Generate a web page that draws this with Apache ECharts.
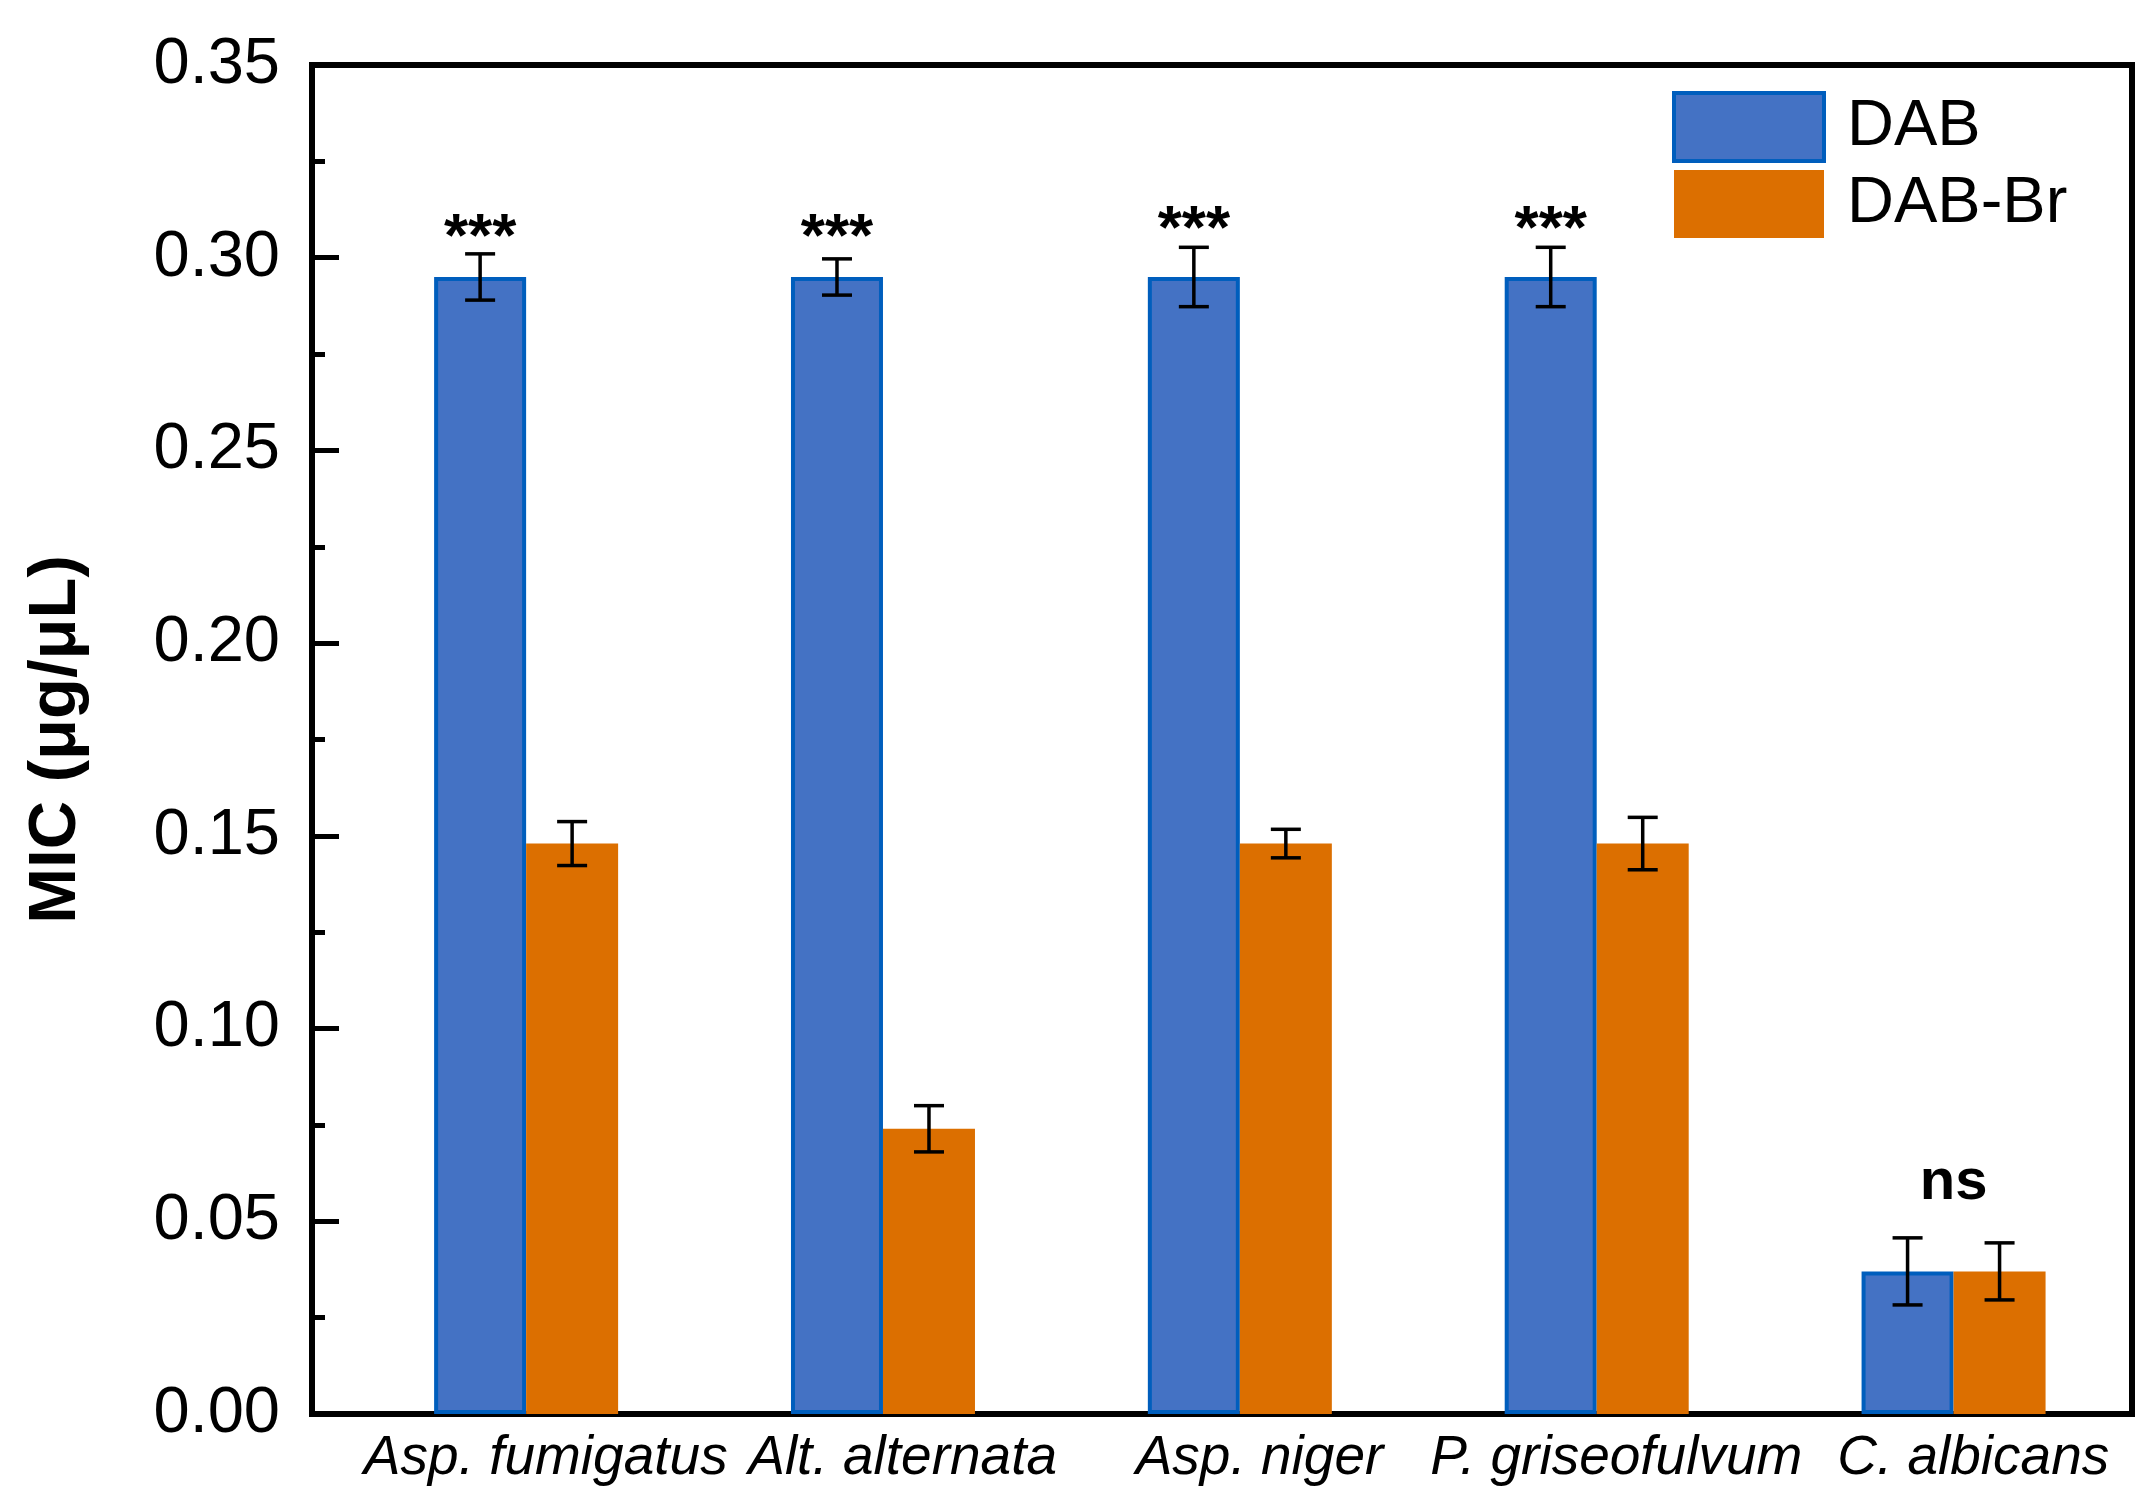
<!DOCTYPE html>
<html>
<head>
<meta charset="utf-8">
<script src="https://cdn.jsdelivr.net/npm/echarts@6/dist/echarts.min.js"></script>
<style>
html,body{margin:0;padding:0;background:#fff;}
#chart{width:2150px;height:1499px;}
</style>
</head>
<body>
<div id="chart"></div>
<script>
// ---- data ----
const categories = ['Asp. fumigatus', 'Alt. alternata', 'Asp. niger', 'P. griseofulvum', 'C. albicans'];
const seriesNames = ['DAB', 'DAB-Br'];
const dabValues   = [0.295, 0.295, 0.295, 0.295, 0.037];
const dabBrValues = [0.148, 0.074, 0.148, 0.148, 0.037];
const dabErrors   = [0.0060, 0.0047, 0.0077, 0.0077, 0.0087];
const dabBrErrors = [0.0057, 0.0060, 0.0037, 0.0068, 0.0074];
const sigLabels   = ['***', '***', '***', '***', 'ns'];
const sigLevels   = [0.305, 0.305, 0.307, 0.307, 0.060];
const sigOver     = ['DAB', 'DAB', 'DAB', 'DAB', 'pair'];
const yTickLabels = ['0.00', '0.05', '0.10', '0.15', '0.20', '0.25', '0.30', '0.35'];

// ---- styling ----
const FONT = '"Liberation Sans", Arial, sans-serif';
const BLUE = '#4472C4', BLUE_EDGE = '#005EBD', ORANGE = '#DC6F00';
const BAR_W = 92;

const chart = echarts.init(document.getElementById('chart'), null, {renderer: 'canvas'});

function errSeries(name, vals, errs, side) {
  return {
    type: 'custom', name: name, coordinateSystem: 'cartesian2d', silent: true, z: 5,
    data: vals.map((v, i) => [i + 1, v, errs[i]]),
    encode: {x: 0, y: 1},
    renderItem: function (params, api) {
      const x = api.value(0), v = api.value(1), e = api.value(2);
      const top = api.coord([x, v + e]);
      const bot = api.coord([x, v - e]);
      const cx = top[0] + side * BAR_W / 2;
      const hw = 15;
      const st = {stroke: '#000', lineWidth: 3.5};
      return {type: 'group', children: [
        {type: 'line', shape: {x1: cx, y1: top[1], x2: cx, y2: bot[1]}, style: st},
        {type: 'line', shape: {x1: cx - hw, y1: top[1], x2: cx + hw, y2: top[1]}, style: st},
        {type: 'line', shape: {x1: cx - hw, y1: bot[1], x2: cx + hw, y2: bot[1]}, style: st}
      ]};
    }
  };
}

const option = {
  backgroundColor: '#fff',
  animation: false,
  textStyle: {fontFamily: FONT},
  grid: {left: 312, right: 18, top: 65, bottom: 85, show: true, borderColor: '#000', borderWidth: 6, containLabel: false},
  legend: {
    data: [
      {name: 'DAB', itemStyle: {color: BLUE, borderColor: BLUE_EDGE, borderWidth: 4}},
      {name: 'DAB-Br', itemStyle: {color: ORANGE, borderWidth: 0}}
    ],
    orient: 'vertical', left: 1672, top: 91, padding: 0, itemWidth: 150, itemHeight: 68, itemGap: 7, icon: 'rect',
    selectedMode: false,
    textStyle: {fontSize: 65, color: '#000', fontFamily: FONT, padding: [0, 0, 0, 18]}
  },
  xAxis: {
    type: 'value', min: 0.4, max: 5.5,
    splitLine: {show: false},
    axisLine: {show: true, lineStyle: {color: '#000', width: 6}},
    axisTick: {show: false},
    axisLabel: {
      customValues: categories.map((c, i) => i + 1.055),
      formatter: function (v) { return categories[Math.round(v) - 1] || ''; },
      fontSize: 55, fontStyle: 'italic', color: '#000', fontFamily: FONT, margin: 17
    }
  },
  yAxis: {
    type: 'value', min: 0, max: 0.35, interval: 0.05,
    name: 'MIC (μg/μL)', nameLocation: 'middle', nameGap: 222, nameRotate: 90,
    nameTextStyle: {fontSize: 67, fontWeight: 'bold', color: '#000', fontFamily: FONT},
    splitLine: {show: false},
    axisLine: {show: true, lineStyle: {color: '#000', width: 6}},
    axisTick: {show: true, inside: true, length: 27, lineStyle: {color: '#000', width: 5}},
    minorTick: {show: true, splitNumber: 2, length: 13, lineStyle: {color: '#000', width: 5}},
    axisLabel: {
      formatter: function (v) { return yTickLabels[Math.round(v / 0.05)]; },
      fontSize: 65, color: '#000', fontFamily: FONT, margin: 32
    }
  },
  series: [
    {
      type: 'bar', name: seriesNames[0], barWidth: BAR_W, barGap: '0%',
      data: dabValues.map((v, i) => [i + 1, v]),
      itemStyle: {color: BLUE, borderColor: BLUE_EDGE, borderWidth: 4}
    },
    {
      type: 'bar', name: seriesNames[1], barWidth: BAR_W, barGap: '0%',
      data: dabBrValues.map((v, i) => [i + 1, v]),
      itemStyle: {color: ORANGE, borderWidth: 0}
    },
    errSeries('DAB error', dabValues, dabErrors, -1),
    errSeries('DAB-Br error', dabBrValues, dabBrErrors, 1),
    {
      type: 'custom', name: 'significance', coordinateSystem: 'cartesian2d', silent: true, z: 6,
      data: sigLevels.map((v, i) => [i + 1, v]),
      encode: {x: 0, y: 1},
      renderItem: function (params, api) {
        const i = params.dataIndex;
        const p = api.coord([api.value(0), api.value(1)]);
        const cx = sigOver[i] === 'DAB' ? p[0] - BAR_W / 2 : p[0];
        const isStars = sigLabels[i].indexOf('*') >= 0;
        return {
          type: 'text',
          style: {
            x: cx, y: p[1], text: sigLabels[i],
            fill: '#000', align: 'center', verticalAlign: 'middle',
            font: 'bold ' + (isStars ? 62 : 58) + 'px ' + FONT
          }
        };
      }
    }
  ]
};
chart.setOption(option);
</script>
</body>
</html>
